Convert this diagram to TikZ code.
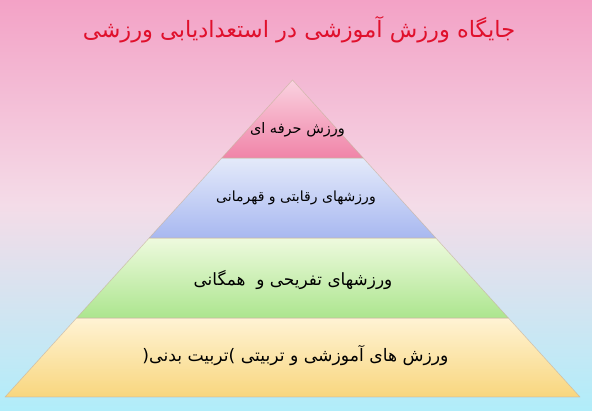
\documentclass[tikz,border=0pt]{standalone}
\usepackage{fontspec}
\TeXXeTstate=1
\newfontfamily\arabicfont[Script=Arabic]{DejaVu Sans}
\definecolor{bgtop}{HTML}{F3A2C6}
\definecolor{bgmid}{HTML}{F4DCE8}
\definecolor{bgbot}{HTML}{B0EDFA}
\definecolor{pinkA}{HTML}{FAD2E0}
\definecolor{pinkB}{HTML}{F084A8}
\definecolor{blueA}{HTML}{E4EAFA}
\definecolor{blueB}{HTML}{A8B8F0}
\definecolor{greenA}{HTML}{EEFADE}
\definecolor{greenB}{HTML}{ACE58E}
\definecolor{yellA}{HTML}{FFF3D4}
\definecolor{yellB}{HTML}{F8D67E}
\definecolor{titlered}{HTML}{E0102C}
\definecolor{edge}{HTML}{C8B4A0}
\tikzset{
  tier/.style={draw=edge, draw opacity=0.7, line width=0.6pt, line join=round},
  lbl/.style={inner sep=0pt, text=black, font=\arabicfont},
}
\begin{document}
\begin{tikzpicture}[x=1pt,y=-1pt]
\useasboundingbox (0,0) rectangle (592,411);
\shade[top color=bgtop, bottom color=bgbot, middle color=bgmid] (0,0) rectangle (592,411);
\coordinate (apex) at (292.5,80);
\coordinate (l1) at (221.8,158); \coordinate (r1) at (363.2,158);
\coordinate (l2) at (149.2,238); \coordinate (r2) at (435.8,238);
\coordinate (l3) at (76.6,318);  \coordinate (r3) at (508.4,318);
\coordinate (l4) at (5,397);     \coordinate (r4) at (580,397);
\shade[tier, top color=yellA, bottom color=yellB] (l3) -- (r3) -- (r4) -- (l4) -- cycle;
\shade[tier, top color=greenA, bottom color=greenB] (l2) -- (r2) -- (r3) -- (l3) -- cycle;
\shade[tier, top color=blueA, bottom color=blueB] (l1) -- (r1) -- (r2) -- (l2) -- cycle;
\shade[tier, top color=pinkA, bottom color=pinkB] (apex) -- (r1) -- (l1) -- cycle;
\node[lbl, text=titlered, font=\arabicfont\fontsize{22.5}{24}\selectfont] (title) at (299,30) {\beginR جایگاه ورزش آموزشی در استعدادیابی ورزشی\endR};
\node[lbl, font=\arabicfont\fontsize{14.5}{16}\selectfont] (t1) at (297.5,130) {\beginR ورزش حرفه ای\endR};
\node[lbl, font=\arabicfont\fontsize{14}{16}\selectfont] (t2) at (296,198) {\beginR ورزشهای رقابتی و قهرمانی\endR};
\node[lbl, font=\arabicfont\fontsize{16.9}{18}\selectfont] (t3) at (293,280) {\beginR ورزشهای تفریحی و \ همگانی\endR};
\node[lbl, font=\arabicfont\fontsize{17.2}{19}\selectfont] (t4) at (295.5,356) {\beginR ورزش های آموزشی و تربیتی \hbox{)}تربیت بدنی\hbox{(}\endR};
\end{tikzpicture}
\end{document}
